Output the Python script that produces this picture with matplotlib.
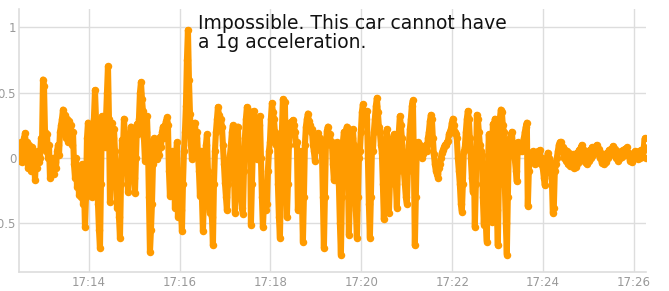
import numpy as np
import matplotlib
matplotlib.use("Agg")
import matplotlib.pyplot as plt
from matplotlib.ticker import FuncFormatter

# longitudinal acceleration (g), sampled every ~1.32 s from 17:12:28
start_time = "17:12:28"
step_s = 1.32
accel = [
    0.05, -0.02, 0.12, -0.03, 0.08, 0.15, 0.19, 0.02, 0.12, -0.08,
    0.10, 0.00, -0.10, 0.08, -0.05, 0.05, -0.17, 0.00, -0.08, 0.05,
    -0.03, 0.00, 0.15, 0.10, 0.60, 0.55, 0.20, 0.05, 0.18, 0.00,
    0.10, -0.15, -0.02, -0.10, 0.00, -0.12, -0.03, -0.08, 0.05, 0.10,
    0.02, 0.20, 0.25, 0.30, 0.37, 0.28, 0.33, 0.15, 0.30, 0.12,
    0.28, 0.20, 0.25, 0.10, 0.20, -0.05, -0.15, 0.00, -0.22, -0.10,
    -0.28, -0.15, -0.30, -0.05, -0.35, -0.20, -0.53, -0.30, 0.15, 0.27,
    0.05, 0.20, -0.10, -0.30, 0.10, 0.30, 0.52, 0.30, -0.10, -0.35,
    -0.55, -0.69, -0.20, 0.32, 0.25, 0.10, 0.08, 0.30, 0.50, 0.70,
    0.30, -0.34, -0.10, 0.27, 0.15, 0.22, 0.05, -0.10, -0.38, -0.20,
    -0.45, -0.61, -0.20, 0.14, 0.05, 0.30, 0.15, 0.00, -0.08, -0.26,
    -0.05, 0.10, 0.24, 0.05, -0.05, -0.15, -0.27, 0.00, 0.26, 0.18,
    0.30, 0.50, 0.58, 0.45, 0.36, 0.15, -0.02, 0.20, 0.32, 0.10,
    -0.30, -0.72, -0.55, -0.35, -0.05, 0.15, 0.10, 0.02, -0.01, 0.10,
    0.02, 0.16, 0.08, 0.20, 0.24, 0.15, 0.25, 0.28, 0.31, 0.25,
    -0.10, -0.29, 0.00, 0.05, -0.15, -0.10, -0.38, 0.00, 0.12, -0.45,
    -0.20, -0.10, -0.40, -0.56, -0.20, 0.05, 0.20, 0.40, 0.75, 0.98,
    0.60, 0.34, 0.10, -0.01, 0.10, 0.20, 0.27, 0.15, 0.20, 0.04,
    -0.10, -0.29, 0.05, -0.30, -0.56, -0.30, 0.00, 0.10, 0.18, -0.10,
    -0.30, -0.42, -0.20, -0.45, -0.67, -0.20, 0.05, 0.20, 0.30, 0.39,
    0.33, 0.25, 0.30, 0.24, 0.10, -0.05, -0.19, -0.30, -0.40, -0.20,
    -0.05, 0.02, 0.10, 0.20, 0.25, -0.10, -0.42, -0.15, 0.15, 0.24,
    0.00, -0.20, -0.30, -0.38, -0.43, -0.10, 0.15, 0.30, 0.39, 0.32,
    0.36, 0.30, -0.51, -0.20, 0.10, 0.36, 0.20, 0.05, -0.01, 0.10,
    0.25, 0.32, 0.00, -0.30, -0.53, -0.35, -0.20, -0.40, -0.35, -0.10,
    0.05, 0.12, 0.30, 0.42, 0.35, 0.30, 0.20, 0.10, 0.18, -0.20,
    -0.45, -0.61, -0.20, 0.20, 0.45, 0.30, 0.43, -0.10, -0.45, -0.20,
    0.10, 0.27, 0.20, 0.28, 0.29, 0.25, 0.20, 0.10, 0.12, -0.40,
    -0.20, 0.00, 0.05, -0.30, -0.64, -0.30, 0.10, 0.24, 0.30, 0.34,
    0.28, 0.25, 0.20, 0.22, 0.10, 0.05, -0.02, 0.10, 0.15, 0.19,
    0.10, 0.15, 0.05, 0.08, -0.30, -0.69, -0.30, 0.10, 0.21, 0.24,
    0.15, 0.18, 0.10, 0.12, -0.05, -0.17, 0.00, 0.10, 0.12, 0.05,
    -0.20, -0.50, -0.74, -0.30, 0.12, 0.20, 0.15, 0.20, 0.24, -0.10,
    -0.59, -0.30, 0.05, 0.15, 0.22, 0.10, -0.10, -0.40, -0.61, -0.30,
    0.00, 0.05, 0.20, 0.35, 0.41, 0.30, 0.35, 0.30, 0.36, 0.00,
    -0.35, -0.61, -0.30, 0.05, 0.05, 0.20, 0.30, 0.40, 0.46, 0.35,
    0.24, 0.20, 0.10, 0.04, -0.20, -0.47, -0.20, 0.10, 0.22, -0.10,
    -0.42, -0.20, 0.05, 0.10, 0.15, 0.18, 0.00, -0.20, -0.38, -0.10,
    0.20, 0.32, 0.25, 0.15, 0.02, -0.10, -0.20, -0.30, -0.35, -0.10,
    0.10, 0.22, 0.30, 0.40, 0.44, 0.00, -0.67, -0.30, 0.10, 0.12,
    0.07, 0.10, 0.05, 0.00, 0.03, 0.08, 0.07, 0.10, 0.05, 0.15,
    0.20, 0.28, 0.33, 0.30, 0.15, 0.03, -0.05, -0.10, -0.12, -0.15,
    -0.08, -0.05, 0.00, 0.04, 0.06, 0.08, 0.10, 0.10, 0.12, 0.13,
    0.18, 0.20, 0.22, 0.27, 0.30, 0.25, 0.20, 0.18, 0.15, 0.00,
    -0.10, -0.20, -0.35, -0.41, -0.20, 0.05, 0.08, 0.20, 0.30, 0.36,
    0.30, 0.15, 0.00, -0.15, -0.26, 0.00, -0.53, -0.20, 0.33, 0.30,
    0.20, 0.10, 0.05, 0.02, -0.30, -0.51, -0.30, -0.50, -0.64, -0.10,
    0.18, 0.00, -0.30, -0.49, 0.26, 0.20, 0.30, 0.00, -0.40, -0.67,
    -0.20, 0.30, 0.37, 0.35, 0.25, 0.20, -0.20, -0.50, -0.74, -0.30,
    0.07, 0.15, 0.18, 0.20, 0.10, 0.05, -0.01, -0.10, -0.18, 0.12,
    0.10, 0.05, 0.08, 0.05, 0.10, 0.15, 0.20, 0.24, 0.27, -0.37,
    -0.10, 0.00, 0.02, 0.04, 0.05, 0.00, -0.05, 0.02, -0.03, 0.05,
    0.00, 0.06, -0.05, 0.00, -0.08, -0.15, -0.21, -0.10, 0.00, 0.04,
    0.00, -0.02, -0.05, -0.15, -0.42, -0.38, -0.10, -0.05, 0.00, 0.05,
    0.10, 0.12, 0.12, 0.05, 0.08, 0.00, 0.06, -0.02, 0.05, -0.05,
    0.04, -0.06, 0.02, -0.05, 0.03, -0.08, 0.02, -0.07, 0.04, -0.04,
    0.06, 0.00, 0.08, 0.10, 0.03, 0.06, -0.03, 0.04, -0.05, 0.05,
    -0.02, 0.06, 0.00, 0.08, 0.02, 0.07, 0.04, 0.09, 0.10, 0.04,
    0.07, 0.00, 0.04, -0.04, 0.02, -0.05, 0.02, -0.03, 0.04, 0.00,
    0.06, 0.02, 0.07, 0.05, 0.09, 0.04, 0.07, 0.00, 0.04, -0.02,
    0.03, 0.00, 0.05, 0.01, 0.06, 0.02, 0.07, 0.05, 0.08, 0.02,
    0.04, -0.02, 0.02, -0.03, 0.03, 0.00, 0.05, 0.01, 0.04, -0.01,
    0.05, 0.00, 0.06, 0.02, 0.05, 0.08, 0.15, 0.00,
]
x_ticks = [14, 16, 18, 20, 22, 24, 26]   # minutes past 17:00
y_ticks = [-0.5, 0, 0.5, 1]
note = "Impossible. This car cannot have\na 1g acceleration."

h, m, s = [int(p) for p in start_time.split(":")]
t0 = m + s / 60.0
t = t0 + np.arange(len(accel)) * step_s / 60.0

fig = plt.figure(figsize=(6.69, 2.91), dpi=100)
ax = fig.add_axes([19 / 669, 1 - 272 / 291, 627 / 669, 263 / 291])

ax.plot(t, accel, color="#ff9b00", lw=4.4, marker="o", ms=5.4,
        markeredgewidth=0, solid_joinstyle="round", zorder=3)

ax.set_xlim(t0, t[-1] + 0.005)
ax.set_ylim(-0.873, 1.14)
ax.set_xticks(x_ticks)
ax.set_yticks(y_ticks)
ax.xaxis.set_major_formatter(FuncFormatter(lambda v, p: "%d:%02d" % (h, int(round(v)))))
ax.yaxis.set_major_formatter(FuncFormatter(lambda v, p: ("%g" % v).replace("-", "\u2212")))

ax.grid(True, color="#dddddd", lw=1, zorder=0)
for side in ["top", "right"]:
    ax.spines[side].set_visible(False)
for side in ["left", "bottom"]:
    ax.spines[side].set_color("#dddddd")
    ax.spines[side].set_linewidth(1.2)
ax.tick_params(length=0, colors="#999999", labelsize=8.5)
ax.tick_params(axis="x", pad=3)
ax.tick_params(axis="y", pad=2)

fig.text(198 / 669, 1 - 14 / 291, note, ha="left", va="top", fontsize=13.5,
         color="#111111", linespacing=1.0, family="DejaVu Sans", weight="medium")

fig.savefig("out.png", dpi=100)
